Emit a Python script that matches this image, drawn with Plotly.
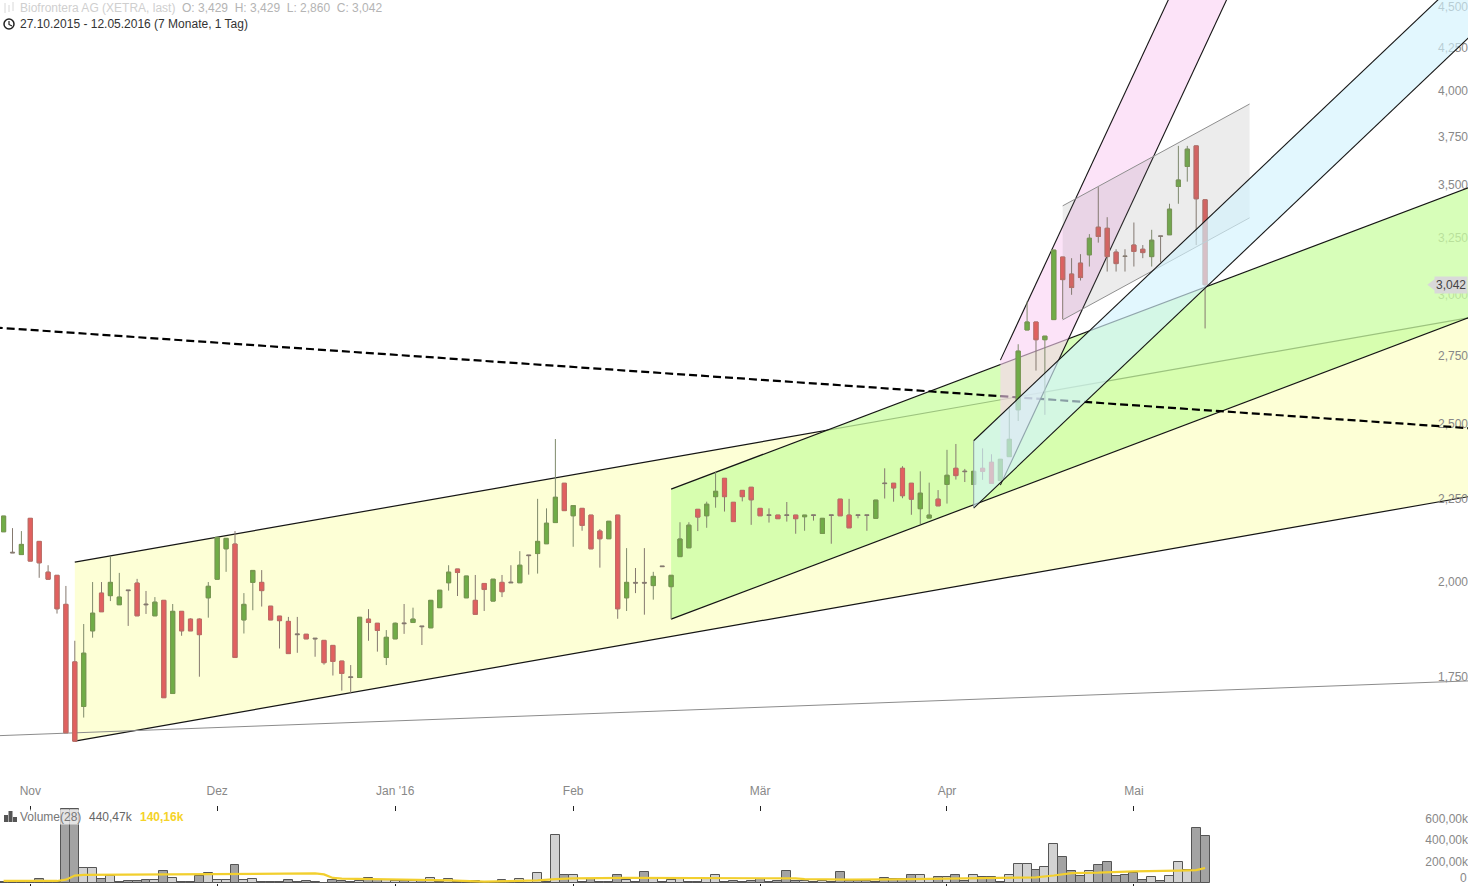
import math
import plotly.graph_objects as go

W, H = 1468, 886

open_ = [2.147,2.086,2.079,2.188,2.118,2.028,2.019,1.938,1.787,1.678,
1.867,1.969,1.962,1.937,1.978,1.997,1.939,1.907,1.949,1.709,
1.919,1.898,1.898,1.956,2.008,2.096,2.110,1.896,1.999,1.999,
1.933,1.906,1.892,1.859,1.858,1.848,1.842,1.829,1.789,1.750,
1.748,1.898,1.887,1.798,1.846,1.888,1.889,1.880,1.875,1.929,
1.998,2.037,1.956,1.949,1.996,1.947,1.999,2.000,1.998,2.078,
2.082,2.111,2.175,2.299,2.196,2.219,2.198,2.149,2.126,2.198,
1.956,1.999,1.999,1.990,2.046,1.987,2.073,2.099,2.216,2.196,
2.256,2.315,2.238,2.276,2.286,2.219,2.199,2.198,2.199,2.198,
2.193,2.199,2.142,2.199,2.248,2.198,2.199,2.199,2.188,2.300,
2.299,2.348,2.299,2.218,2.189,2.248,2.295,2.348,2.339,2.295,
2.348,2.368,2.308,2.387,2.550,2.854,2.886,2.815,2.896,3.163,
3.088,3.136,3.173,3.299,3.294,3.185,3.168,3.217,3.198,3.165,
3.259,3.264,3.494,3.594,3.700,3.429]
high = [2.195,2.158,2.149,2.188,2.118,2.048,2.019,1.989,1.841,1.885,
2.000,2.000,2.075,2.026,1.978,2.009,1.975,1.958,1.949,1.939,
1.919,1.900,1.900,2.000,2.130,2.127,2.149,1.969,2.033,2.034,
1.933,1.906,1.904,1.904,1.858,1.848,1.842,1.829,1.789,1.779,
1.903,1.925,1.887,1.869,1.889,1.939,1.929,1.880,1.949,1.977,
2.048,2.037,2.017,2.020,1.996,2.008,2.020,2.048,2.089,2.078,
2.249,2.219,2.447,2.299,2.228,2.219,2.198,2.155,2.179,2.198,
2.098,2.040,2.098,2.029,2.046,2.019,2.176,2.176,2.216,2.240,
2.337,2.315,2.238,2.276,2.286,2.219,2.219,2.198,2.239,2.198,
2.198,2.199,2.188,2.199,2.248,2.249,2.199,2.199,2.245,2.348,
2.299,2.355,2.299,2.338,2.301,2.277,2.410,2.430,2.346,2.338,
2.415,2.395,2.378,2.557,2.797,2.971,2.886,2.829,3.194,3.163,
3.158,3.176,3.267,3.491,3.346,3.198,3.198,3.321,3.217,3.287,
3.259,3.410,3.700,3.700,3.700,3.429]
low = [2.147,2.084,2.079,2.060,2.012,2.008,1.913,1.617,1.598,1.652,
1.849,1.918,1.947,1.937,1.880,1.907,1.912,1.907,1.699,1.709,
1.854,1.867,1.750,1.902,2.008,2.029,1.798,1.860,1.922,1.932,
1.896,1.821,1.808,1.810,1.846,1.800,1.780,1.753,1.716,1.710,
1.748,1.841,1.813,1.779,1.846,1.859,1.889,1.830,1.875,1.929,
1.976,1.961,1.956,1.911,1.920,1.947,1.958,1.998,1.998,2.021,
2.024,2.111,2.175,2.212,2.102,2.150,2.096,2.041,2.126,1.899,
1.920,1.969,1.910,1.951,2.044,1.898,2.073,2.099,2.149,2.159,
2.221,2.209,2.178,2.241,2.168,2.196,2.175,2.187,2.178,2.141,
2.150,2.181,2.142,2.111,2.196,2.159,2.188,2.150,2.188,2.250,
2.240,2.251,2.199,2.170,2.189,2.227,2.234,2.311,2.303,2.295,
2.310,2.299,2.308,2.387,2.510,2.854,2.695,2.532,2.896,2.898,
2.999,3.060,3.121,3.228,3.099,3.099,3.099,3.121,3.158,3.121,
3.140,3.264,3.410,3.518,3.217,2.860]
close = [2.195,2.084,2.109,2.060,2.055,2.008,1.926,1.617,1.598,1.809,
1.914,1.918,1.999,1.958,1.976,1.907,1.937,1.944,1.699,1.919,
1.867,1.867,1.857,1.988,2.130,2.127,1.798,1.938,2.033,1.976,
1.896,1.894,1.808,1.857,1.846,1.846,1.785,1.788,1.758,1.748,
1.903,1.889,1.868,1.850,1.887,1.886,1.898,1.878,1.949,1.977,
2.028,2.027,2.017,1.911,1.979,2.008,1.973,1.998,2.048,2.076,
2.118,2.173,2.254,2.212,2.228,2.166,2.096,2.126,2.179,1.926,
1.999,1.997,1.997,2.016,2.044,2.019,2.125,2.167,2.192,2.232,
2.273,2.256,2.178,2.256,2.246,2.196,2.197,2.187,2.197,2.187,
2.198,2.197,2.188,2.197,2.196,2.159,2.197,2.197,2.245,2.298,
2.284,2.259,2.248,2.267,2.198,2.227,2.325,2.324,2.337,2.338,
2.338,2.299,2.378,2.446,2.770,2.886,2.815,2.829,3.194,3.064,
3.030,3.073,3.248,3.256,3.165,3.134,3.166,3.188,3.183,3.239,
3.257,3.384,3.526,3.683,3.434,3.042]
volume_k = [9,9,9,9,37,9,9,694,694,143,
143,40,65,9,19,22,31,31,115,50,
12,12,65,97,31,31,171,31,40,9,
9,12,31,6,22,12,3,31,22,12,
22,47,31,31,22,22,22,22,50,9,
37,9,12,22,9,9,31,9,40,3,
97,12,452,75,75,12,40,12,6,75,
31,9,106,40,6,31,40,9,9,40,
75,9,22,6,22,40,6,22,115,22,
22,9,22,6,106,22,22,22,9,50,
40,34,75,75,31,59,59,78,22,78,
59,59,9,78,181,181,125,153,368,246,
115,69,115,171,199,69,78,97,31,59,
22,69,199,125,517,440.47]
day_index = list(range(len(close)))

# volume moving average (28), read at its visible bends
ma_days = [0,6,7,8,9,18,24,34,35,36,37,38,44,50,54,56,60,62,64,70,85,89,90,95,100,105,110,114,116,118,120,123,127,132,134,135]
ma_k = [19,19,31,69,75,81,87,93,90,80,47,40,31,25,12,16,25,37,44,47,50,44,37,31,34,40,44,47,53,70,93,96,109,115,120,140.16]

month_days = [3,24,44,64,85,106,127]
month_labels = ["Nov","Dez","Jan '16","Feb","Mär","Apr","Mai"]
price_ticks = [1.5,1.75,2.0,2.25,2.5,2.75,3.0,3.25,3.5,3.75,4.0,4.25,4.5]
price_labels = ["1,500","1,750","2,000","2,250","2,500","2,750","3,000","3,250","3,500","3,750","4,000","4,250","4,500"]
vol_ticks = [200,400,600]
vol_labels = ["200,00k","400,00k","600,00k"]

# drawing tools: (day, price) anchors
yellow_days = [8,165]; yellow_upper = [2.057,2.906]; yellow_lower = [1.598,2.258]
green_days = [75,165]; green_upper = [2.280,3.495]; green_lower = [1.898,2.909]
blue_days = [109,165]; blue_upper = [2.441,4.759]; blue_lower = [2.220,4.330]
pink_days = [112,140]; pink_upper = [2.735,5.814]; pink_lower = [2.293,4.874]
gray_days = [119,140]; gray_upper = [3.400,3.925]; gray_lower = [2.895,3.343]
support_days = [-1,165]; support_prices = [1.610,1.740]
dashed_days = [-1,165]; dashed_prices = [2.864,2.484]

BLACK = "#151515"
FONT = "Liberation Sans"
x_range = [-0.404, 164.54]
split = 1 - 804 / H
bottom = 3 / H

fig = go.Figure()


def channel(days, upper, lower, fill, line_color, line_width, z, edge=None):
    fig.add_trace(go.Scatter(
        x=[days[0], days[1], days[1], days[0], days[0]],
        y=[upper[0], upper[1], lower[1], lower[0], upper[0]],
        mode="lines", line=dict(width=0), fill="toself", fillcolor=fill,
        hoverinfo="skip", showlegend=False, zorder=z))
    xs = [days[0], days[1], None, days[0], days[1]]
    ys = [upper[0], upper[1], None, lower[0], lower[1]]
    fig.add_trace(go.Scatter(x=xs, y=ys, mode="lines",
        line=dict(color=line_color, width=line_width),
        hoverinfo="skip", showlegend=False, zorder=z))
    if edge:
        fig.add_trace(go.Scatter(x=[days[0], days[0]], y=[upper[0], lower[0]], mode="lines",
            line=dict(color=edge, width=1), hoverinfo="skip", showlegend=False, zorder=z))


channel(yellow_days, yellow_upper, yellow_lower, "#FDFFD6", BLACK, 1.2, 0)
fig.add_trace(go.Scatter(x=support_days, y=support_prices, mode="lines",
    line=dict(color="#8c8c8c", width=1), hoverinfo="skip", showlegend=False, zorder=0))
channel(green_days, green_upper, green_lower, "rgba(201,253,161,0.75)", BLACK, 1.2, 1)
fig.add_trace(go.Scatter(x=dashed_days, y=dashed_prices, mode="lines",
    line=dict(color="#000000", width=2.2, dash="8px,4px"), hoverinfo="skip", showlegend=False, zorder=1))
channel(pink_days, pink_upper, pink_lower, "rgba(250,208,243,0.6)", BLACK, 1.1, 2)

# wicks and dojis in gray
fig.add_trace(go.Candlestick(
    x=day_index, open=open_, high=high, low=low, close=close,
    increasing=dict(line=dict(color="#7f8a6c", width=1), fillcolor="#7f8a6c"),
    decreasing=dict(line=dict(color="#85796f", width=1), fillcolor="#85796f"),
    whiskerwidth=0, hoverinfo="skip", showlegend=False, zorder=3))
# real bodies on top with their own outline
body_days = [d for d, o, c in zip(day_index, open_, close) if abs(o - c) > 0.0025]
body_open = [o for o, c in zip(open_, close) if abs(o - c) > 0.0025]
body_close = [c for o, c in zip(open_, close) if abs(o - c) > 0.0025]
fig.add_trace(go.Candlestick(
    x=body_days, open=body_open, close=body_close,
    high=[max(o, c) for o, c in zip(body_open, body_close)],
    low=[min(o, c) for o, c in zip(body_open, body_close)],
    increasing=dict(line=dict(color="#77994f", width=1), fillcolor="#70AD47"),
    decreasing=dict(line=dict(color="#c46a64", width=1), fillcolor="#E2605F"),
    whiskerwidth=0, hoverinfo="skip", showlegend=False, zorder=3))

channel(gray_days, gray_upper, gray_lower, "rgba(128,128,128,0.15)", "#8f8f8f", 1, 4)
channel(blue_days, blue_upper, blue_lower, "rgba(210,242,254,0.65)", BLACK, 1.1, 5, edge="#8c9a9a")

# last price pointer
fig.add_trace(go.Scatter(x=[160.7], y=[close[-1]], mode="markers",
    marker=dict(symbol="triangle-left", size=13, color="#d9d9d9"),
    hoverinfo="skip", showlegend=False, zorder=6))

bar_colors = ["#a3a3a3" if c < o else "#d2d2d2" for o, c in zip(open_, close)]
fig.add_trace(go.Bar(x=day_index, y=volume_k, xaxis="x2", yaxis="y2",
    marker=dict(color=bar_colors, line=dict(color="#555555", width=1)),
    hoverinfo="skip", showlegend=False))
fig.add_trace(go.Scatter(x=ma_days, y=ma_k, xaxis="x2", yaxis="y2", mode="lines",
    line=dict(color="#F2CF2E", width=2.2), hoverinfo="skip", showlegend=False))


def px(x): return x / W
def py(y): return 1 - y / H


def text(x, y, s, color, size=12, bold=False, bg=None):
    fig.add_annotation(xref="paper", yref="paper", x=px(x), y=py(y), text=f"<b>{s}</b>" if bold else s,
        showarrow=False, xanchor="left", yanchor="middle", align="left",
        font=dict(family=FONT, size=size, color=color), bgcolor=bg, borderpad=0)


text(19, 8, "Biofrontera AG (XETRA, last)", "#cfcfcf")
text(181, 8, "O: 3,429&nbsp;&nbsp;H: 3,429&nbsp;&nbsp;L: 2,860&nbsp;&nbsp;C: 3,042", "#b4b4b4")
text(19, 24, "27.10.2015 - 12.05.2016 (7 Monate, 1 Tag)", "#333333")
text(19, 817, "Volume(28)", "#777777", bg="rgba(255,255,255,0.7)")
text(88, 817, "440,47k", "#666666")
text(139, 817, "140,16k", "#F5D328", bold=True)
text(1459, 878, "0", "#888888")

fig.add_annotation(xref="paper", yref="y", x=1, y=math.log10(close[-1]), text="3,042",
    showarrow=False, xanchor="right", yanchor="middle",
    font=dict(family=FONT, size=12, color="#444444"), bgcolor="#d9d9d9", borderpad=1)

shapes = []
# clock icon
shapes.append(dict(type="circle", xref="paper", yref="paper", x0=px(4), x1=px(14), y0=py(29), y1=py(19),
    line=dict(color="#222222", width=1.5)))
shapes.append(dict(type="path", xref="paper", yref="paper",
    path=f"M {px(9)} {py(21)} L {px(9)} {py(24.5)} L {px(12)} {py(26)}", line=dict(color="#222222", width=1.2)))
# faint candles icon
for bx, t, b in [(5, 3, 13), (9, 5, 12), (13, 2, 11)]:
    shapes.append(dict(type="line", xref="paper", yref="paper", x0=px(bx), x1=px(bx), y0=py(t), y1=py(b),
        line=dict(color="#d8d8d8", width=1)))
# volume icon
for bx0, t in [(4, 815), (8.5, 811), (13, 817)]:
    shapes.append(dict(type="rect", xref="paper", yref="paper", x0=px(bx0), x1=px(bx0 + 4), y0=py(t), y1=py(822),
        fillcolor="#555555", line=dict(width=0)))

fig.update_layout(
    width=W, height=H, margin=dict(l=0, r=0, t=0, b=0),
    paper_bgcolor="white", plot_bgcolor="white",
    bargap=0, boxgap=0.34, showlegend=False, shapes=shapes,
    font=dict(family=FONT, size=12, color="#888888"),
    xaxis=dict(domain=[0, 1], range=x_range, anchor="y", tickmode="array", tickvals=month_days,
        ticktext=month_labels, ticks="outside", ticklen=5, tickcolor="#222222", tickwidth=1,
        ticklabelposition="inside", ticklabelstandoff=6, tickfont=dict(family=FONT, size=12, color="#888888"),
        showline=True, linecolor="#888888", linewidth=1.5, showgrid=False, zeroline=False,
        rangeslider=dict(visible=False)),
    yaxis=dict(domain=[split, 1], type="log", range=[math.log10(1.4624), math.log10(4.5453)],
        anchor="x", side="right", tickmode="array", tickvals=price_ticks, ticktext=price_labels,
        ticklabelposition="inside", ticklabelstandoff=-3, ticks="", tickfont=dict(family=FONT, size=12, color="#888888"),
        showgrid=False, zeroline=False, showline=False),
    xaxis2=dict(domain=[0, 1], range=x_range, anchor="y2", tickmode="array", tickvals=month_days,
        ticktext=month_labels, showticklabels=False, ticks="outside", ticklen=3, tickcolor="#222222",
        showline=False, showgrid=False, zeroline=False),
    yaxis2=dict(domain=[bottom, split], range=[0, 738], anchor="x2", side="right", tickmode="array",
        tickvals=vol_ticks, ticktext=vol_labels, ticklabelposition="inside", ticklabelstandoff=-3, ticks="",
        tickfont=dict(family=FONT, size=12, color="#888888"),
        showgrid=False, zeroline=False, showline=False),
)

fig.write_html("out.html", config=dict(displayModeBar=False),
    post_script="document.body.style.margin='0';document.body.style.overflow='hidden';")
